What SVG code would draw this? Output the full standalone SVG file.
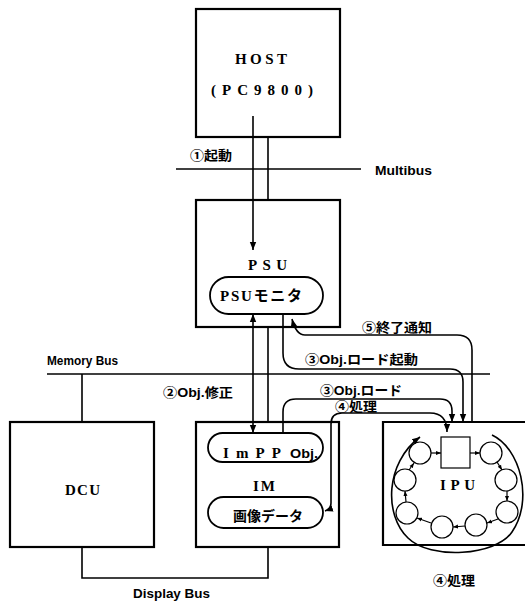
<svg xmlns="http://www.w3.org/2000/svg" width="525" height="601" viewBox="0 0 525 601">
<defs>
<marker id="ah" viewBox="0 0 10 10" refX="10" refY="5" markerWidth="8" markerHeight="8" markerUnits="userSpaceOnUse" orient="auto-start-reverse"><path d="M0,1 L10,5 L0,9 z" fill="#000"/></marker>
<marker id="sa" viewBox="0 0 10 10" refX="10" refY="5" markerWidth="5" markerHeight="5" markerUnits="userSpaceOnUse" orient="auto"><path d="M0,1 L10,5 L0,9 z" fill="#000"/></marker>
</defs>
<style>
.box{fill:#fff;stroke:#000;stroke-width:2.2}
.pill{fill:#fff;stroke:#000;stroke-width:1.8}
.ln{fill:none;stroke:#000;stroke-width:1.6}
.thin{fill:none;stroke:#000;stroke-width:1.2}
.nt{font-family:"Liberation Serif","Noto Sans CJK JP",serif;font-size:15px;font-weight:bold;fill:#000}
.jt{font-family:"Noto Sans CJK JP",sans-serif;font-size:14px;font-weight:bold;fill:#000}
.lb{font-family:"Liberation Sans","Noto Sans CJK JP",sans-serif;font-size:13px;font-weight:bold;fill:#000}
</style>
<rect width="525" height="601" fill="#fff"/>

<g id="buses">
<line class="ln" x1="176" y1="169" x2="361" y2="169"/>
<text class="lb" x="375" y="175" textLength="57" lengthAdjust="spacingAndGlyphs">Multibus</text>
<line class="ln" x1="47" y1="374" x2="490" y2="374"/>
<text class="lb" x="47" y="365" textLength="71" lengthAdjust="spacingAndGlyphs">Memory Bus</text>
<path class="ln" d="M82 374 V422 M82 547 V578 H268 V547"/>
<text class="lb" x="133" y="598" textLength="77" lengthAdjust="spacingAndGlyphs">Display Bus</text>
</g>

<g id="host">
<rect class="box" x="196" y="9" width="144" height="128"/>
<text class="nt" x="235" y="64" textLength="52" lengthAdjust="spacing">HOST</text>
<text class="nt" x="211" y="95" textLength="102" lengthAdjust="spacing">(PC9800)</text>
</g>

<g id="psu">
<rect class="box" x="196" y="200" width="144" height="127"/>
<text class="nt" x="248" y="270" textLength="39" lengthAdjust="spacing">PSU</text>
</g>
<g id="psu-monitor">
<rect class="pill" x="210" y="277" width="113" height="37" rx="18.5"/>
<text class="nt" x="220" y="301" textLength="82" lengthAdjust="spacing">PSUモニタ</text>
</g>

<g id="dcu">
<rect class="box" x="10" y="422" width="144" height="125"/>
<text class="nt" x="65" y="495" textLength="35" lengthAdjust="spacing">DCU</text>
</g>

<g id="im">
<rect class="box" x="196" y="422" width="143" height="125"/>
<text class="nt" x="253" y="491" textLength="22" lengthAdjust="spacing">IM</text>
</g>
<g id="impp">
<rect class="pill" x="208" y="433" width="115" height="29" rx="14.5"/>
<text class="nt" x="223" y="458" textLength="58" lengthAdjust="spacing">ImPP</text>
<text class="lb" x="290" y="458" textLength="28" lengthAdjust="spacingAndGlyphs">Obj.</text>
</g>
<g id="image-data">
<rect class="pill" x="208" y="497" width="115" height="31" rx="15.5"/>
<text class="jt" x="233" y="521" textLength="70" lengthAdjust="spacingAndGlyphs">画像データ</text>
</g>

<g id="ipu">
<path class="box" d="M526 422 H383 V545 H526"/>
<rect class="thin" x="441" y="437" width="29" height="31" fill="#fff"/>
<text class="nt" x="440" y="490" textLength="35" lengthAdjust="spacing">IPU</text>
<g class="thin">
<circle cx="420" cy="453" r="11"/>
<circle cx="491" cy="453" r="11"/>
<circle cx="506" cy="480" r="11"/>
<circle cx="507" cy="512" r="11"/>
<circle cx="476" cy="525" r="11"/>
<circle cx="442" cy="527" r="11"/>
<circle cx="407" cy="513" r="11"/>
<circle cx="405" cy="480" r="11"/>
</g>
<g class="thin" marker-end="url(#sa)">
<line x1="431" y1="453" x2="441" y2="453"/>
<line x1="470" y1="453" x2="480" y2="453"/>
<line x1="497" y1="462" x2="502" y2="470"/>
<line x1="507" y1="491" x2="507" y2="501"/>
<line x1="498" y1="519" x2="487" y2="523"/>
<line x1="465" y1="526" x2="453" y2="527"/>
<line x1="431" y1="523" x2="417" y2="518"/>
<line x1="406" y1="502" x2="405" y2="491"/>
<line x1="409" y1="470" x2="414" y2="463"/>
</g>
<path class="ln" d="M492 435 C520 448 534 500 512 532 C496 556 430 560 408 538 C384 515 385 463 420 437" marker-end="url(#ah)"/>
<text class="lb" x="433" y="585" textLength="42" lengthAdjust="spacingAndGlyphs">④処理</text>
</g>

<g id="connectors">
<line class="ln" x1="253" y1="116" x2="253" y2="250" marker-end="url(#ah)"/>
<line class="ln" x1="268" y1="137" x2="268" y2="200"/>
<line class="ln" x1="253" y1="314" x2="253" y2="433" marker-start="url(#ah)" marker-end="url(#ah)"/>
<line class="ln" x1="268" y1="327" x2="268" y2="422"/>
<path class="ln" d="M472 422 V350 Q472 335 457 335 H305 Q296 335 292 319" marker-end="url(#ah)"/>
<path class="ln" d="M283 314 V353 Q283 369 299 369 H450 Q463 369 463 382 V422" marker-end="url(#ah)"/>
<path class="ln" d="M283 433 V412 Q283 399 296 399 H440 Q452 399 452 411 V422" marker-end="url(#ah)"/>
<path class="ln" d="M447 432 Q447 413 430 413 H342 Q331 413 331 424 V503 Q331 509 325 511" marker-start="url(#ah)" marker-end="url(#ah)"/>
</g>

<g id="labels">
<text class="lb" x="190" y="160" textLength="42" lengthAdjust="spacingAndGlyphs">①起動</text>
<text class="lb" x="362" y="332" textLength="70" lengthAdjust="spacingAndGlyphs">⑤終了通知</text>
<text class="lb" x="305" y="364" textLength="113" lengthAdjust="spacingAndGlyphs">③Obj.ロード起動</text>
<text class="lb" x="163" y="397" textLength="70" lengthAdjust="spacingAndGlyphs">②Obj.修正</text>
<text class="lb" x="320" y="395" textLength="82" lengthAdjust="spacingAndGlyphs">③Obj.ロード</text>
<text class="lb" x="335" y="411" textLength="42" lengthAdjust="spacingAndGlyphs">④処理</text>
</g>
</svg>
